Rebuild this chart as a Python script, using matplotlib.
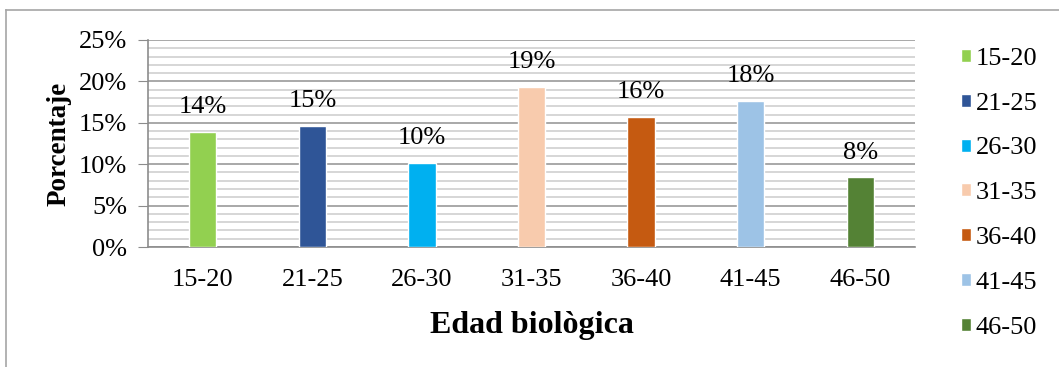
import numpy as np
import matplotlib.pyplot as plt
from matplotlib.lines import Line2D
from matplotlib.ticker import MultipleLocator, FuncFormatter

# datos: porcentaje por grupo de edad
grupos = ['15-20', '21-25', '26-30', '31-35', '36-40', '41-45', '46-50']
porcentajes = [13.9, 14.6, 10.2, 19.3, 15.7, 17.6, 8.4]
colores = ['#92D050', '#2F5597', '#00B0F0', '#F8CBAD', '#C55A11', '#9DC3E6', '#548235']

plt.rcParams['font.family'] = ['Liberation Serif', 'DejaVu Serif']

fig = plt.figure(figsize=(10.59, 3.67), dpi=100)
ax = fig.add_axes([148/1059, 1 - 247/367, (915-148)/1059, (247-40)/367])

x = np.arange(len(grupos))
barras = []
for i in range(len(grupos)):
    b = ax.bar(x[i], porcentajes[i], width=0.25, color=colores[i],
               edgecolor='white', linewidth=1.0, zorder=3, label=grupos[i])
    barras.append(b)
    ax.annotate('%d%%' % round(porcentajes[i]), (x[i], porcentajes[i]),
                xytext=(0, 10), textcoords='offset points',
                ha='center', va='bottom', fontsize=19, zorder=4)

ax.set_xlim(-0.5, len(grupos) - 0.5)
ax.set_ylim(0, 25)
ax.yaxis.set_major_locator(MultipleLocator(5))
ax.yaxis.set_minor_locator(MultipleLocator(1))
ax.yaxis.set_major_formatter(FuncFormatter(lambda v, p: '%d%%' % v))
ax.grid(which='major', axis='y', color='#9A9A9A', linewidth=1.2, zorder=0)
ax.grid(which='minor', axis='y', color='#CFCFCF', linewidth=1.2, zorder=0)

ax.set_xticks(x)
ax.set_xticklabels(grupos, fontsize=19)
ax.tick_params(axis='x', length=0, pad=16)
ax.tick_params(axis='y', which='major', length=7, color='#8C8C8C', labelsize=19, pad=8)
ax.tick_params(axis='y', which='minor', length=0)

for s in ['top', 'right']:
    ax.spines[s].set_visible(False)
for s in ['left', 'bottom']:
    ax.spines[s].set_color('#8C8C8C')
    ax.spines[s].set_linewidth(1.2)

ax.set_xlabel('Edad biològica', fontsize=23, fontweight='bold', labelpad=14)
ax.set_ylabel('Porcentaje', fontsize=19.5, fontweight='bold', labelpad=5)

# leyenda a la derecha
leg = fig.legend(handles=barras, labels=grupos, loc='upper left',
                 bbox_to_anchor=(950/1059, 1 - 37/367), frameon=False,
                 fontsize=19, handlelength=0.38, handleheight=0.38,
                 handletextpad=0.2, labelspacing=0.87, borderaxespad=0)

# marco del gráfico
fig.add_artist(Line2D([6/1059, 6/1059], [0, 1 - 10/367], transform=fig.transFigure,
                      color='#A6A6A6', linewidth=1.2))
fig.add_artist(Line2D([6/1059, 1], [1 - 10/367, 1 - 10/367], transform=fig.transFigure,
                      color='#A6A6A6', linewidth=1.2))

fig.savefig('out.png', dpi=100)
